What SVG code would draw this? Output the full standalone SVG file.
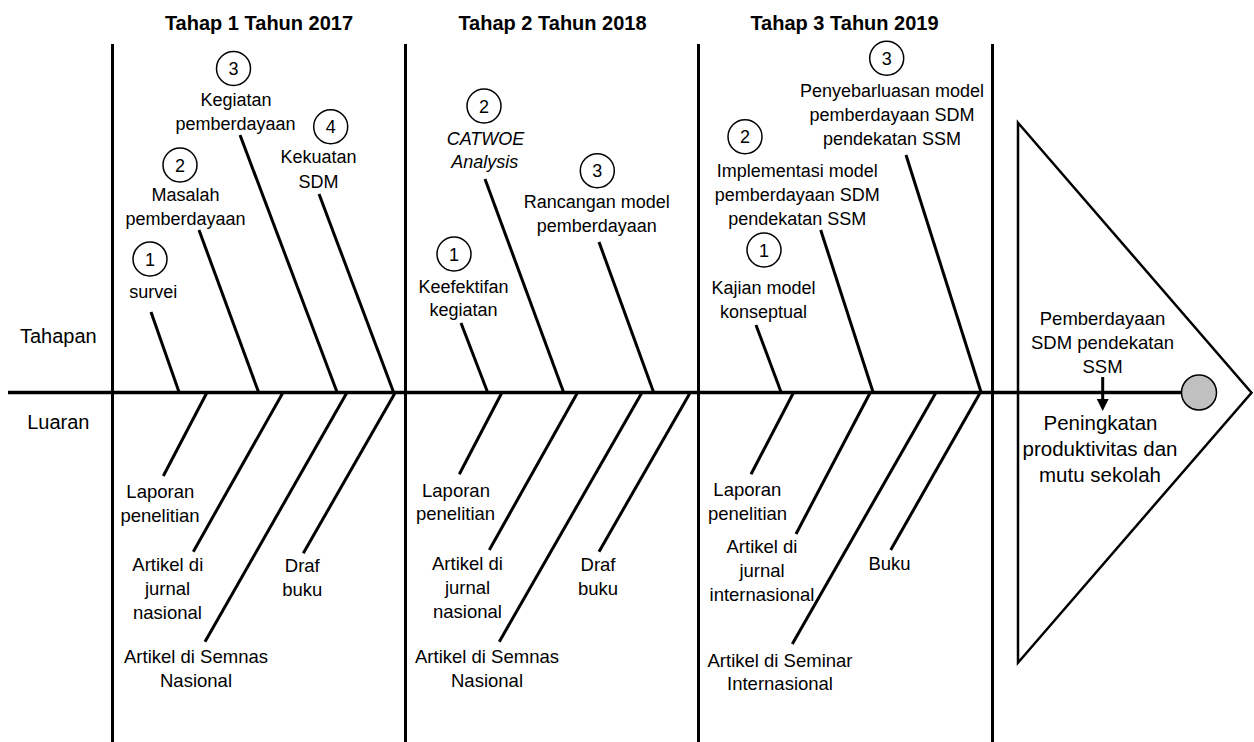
<svg xmlns="http://www.w3.org/2000/svg" width="1254" height="742" viewBox="0 0 1254 742">
<style>
text{font-family:"Liberation Sans",Arial,sans-serif;fill:#000;text-anchor:middle;font-size:18.5px}
.h{font-weight:bold;font-size:20px}
.big{font-size:20.5px}
.it{font-style:italic}
.br{stroke:#000;stroke-width:3;fill:none;stroke-linecap:butt}
.sep{stroke:#000;stroke-width:3;fill:none}
.num circle{fill:#fff;stroke:#000;stroke-width:1.5}
.num text{font-size:18px}
</style>
<defs>
<marker id="ah" markerWidth="12" markerHeight="12" refX="3" refY="6" orient="auto" markerUnits="userSpaceOnUse" viewBox="0 0 12 12">
<polygon points="0,0 12,6 0,12" fill="#000"/>
</marker>
</defs>
<rect width="1254" height="742" fill="#fff"/>

<g id="headers">
<text class="h" x="259" y="29.5">Tahap 1 Tahun 2017</text>
<text class="h" x="552.5" y="29.5">Tahap 2 Tahun 2018</text>
<text class="h" x="844.5" y="29.5">Tahap 3 Tahun 2019</text>
<text style="font-size:20px" x="58.3" y="343.3">Tahapan</text>
<text style="font-size:20px" x="58.3" y="429.3">Luaran</text>
</g>

<g id="separators">
<line class="sep" x1="112.5" y1="44" x2="112.5" y2="742"/>
<line class="sep" x1="405.5" y1="44" x2="405.5" y2="742"/>
<line class="sep" x1="698.5" y1="44" x2="698.5" y2="742"/>
<line class="sep" x1="992.5" y1="44" x2="992.5" y2="742"/>
</g>

<g id="head">
<polygon points="1018,122.7 1251.5,392.7 1018,662.7" fill="none" stroke="#000" stroke-width="2.5" stroke-linejoin="miter"/>
</g>

<g id="connectors">
<line x1="8" y1="392.5" x2="1182" y2="392.5" stroke="#000" stroke-width="3.5"/>
<!-- stage 1 upper -->
<line class="br" x1="151" y1="312" x2="179" y2="392"/>
<line class="br" x1="199" y1="230" x2="258.5" y2="392"/>
<line class="br" x1="240" y1="135" x2="337" y2="392"/>
<line class="br" x1="319" y1="194" x2="393.5" y2="392"/>
<!-- stage 2 upper -->
<line class="br" x1="461" y1="323" x2="487.5" y2="392"/>
<line class="br" x1="485" y1="179" x2="563.5" y2="392"/>
<line class="br" x1="599" y1="242" x2="653.5" y2="392"/>
<!-- stage 3 upper -->
<line class="br" x1="756" y1="325" x2="781" y2="392"/>
<line class="br" x1="820.7" y1="230" x2="873" y2="392"/>
<line class="br" x1="906" y1="155" x2="981" y2="392"/>
<!-- stage 1 lower -->
<line class="br" x1="206.7" y1="393" x2="163.3" y2="476"/>
<line class="br" x1="282.7" y1="393" x2="193.3" y2="551.7"/>
<line class="br" x1="346.7" y1="393" x2="205" y2="641.7"/>
<line class="br" x1="395" y1="393" x2="303.3" y2="553.3"/>
<!-- stage 2 lower -->
<line class="br" x1="501.7" y1="393" x2="459.3" y2="474.3"/>
<line class="br" x1="577.3" y1="393" x2="489.3" y2="550"/>
<line class="br" x1="641.7" y1="393" x2="499.3" y2="641.7"/>
<line class="br" x1="690" y1="393" x2="599" y2="551.7"/>
<!-- stage 3 lower -->
<line class="br" x1="793.3" y1="393" x2="751" y2="474.3"/>
<line class="br" x1="870" y1="393" x2="796" y2="534"/>
<line class="br" x1="935.7" y1="393" x2="792.3" y2="644"/>
<line class="br" x1="980" y1="393" x2="890.7" y2="550"/>
<!-- result arrow -->
<line x1="1102.7" y1="377" x2="1102.7" y2="402" stroke="#000" stroke-width="3" marker-end="url(#ah)"/>
</g>

<g id="goal">
<ellipse cx="1199" cy="392.5" rx="17.5" ry="17.5" fill="#c0c0c0" stroke="#000" stroke-width="1.5"/>
<text x="1102.5" y="325">Pemberdayaan</text>
<text x="1102.5" y="348.5">SDM pendekatan</text>
<text x="1102.5" y="372.5">SSM</text>
</g>
<g id="result">
<text class="big" x="1100.5" y="429.5">Peningkatan</text>
<text class="big" x="1100" y="455.5">produktivitas dan</text>
<text class="big" x="1100" y="481.5">mutu sekolah</text>
</g>

<!-- Stage 1 steps -->
<g id="s1-step1" class="num">
<circle cx="150" cy="259" r="17"/><text x="150" y="265.5">1</text>
<text x="153.3" y="298">survei</text>
</g>
<g id="s1-step2" class="num">
<circle cx="180" cy="165" r="17"/><text x="180" y="171.5">2</text>
<text x="185.5" y="201">Masalah</text>
<text x="185.5" y="225">pemberdayaan</text>
</g>
<g id="s1-step3" class="num">
<circle cx="233.5" cy="68.5" r="17"/><text x="233.5" y="75">3</text>
<text x="236" y="105.5">Kegiatan</text>
<text x="235.5" y="129.5">pemberdayaan</text>
</g>
<g id="s1-step4" class="num">
<circle cx="330.7" cy="126.7" r="17"/><text x="330.7" y="133.2">4</text>
<text x="318.5" y="163.3">Kekuatan</text>
<text x="318.5" y="188">SDM</text>
</g>

<!-- Stage 1 outputs -->
<g id="s1-out1"><text x="160.3" y="498.3">Laporan</text><text x="160" y="522">penelitian</text></g>
<g id="s1-out2"><text x="167.8" y="571">Artikel di</text><text x="167.5" y="595">jurnal</text><text x="167.5" y="619">nasional</text></g>
<g id="s1-out3"><text x="196" y="663.3">Artikel di Semnas</text><text x="196" y="687.3">Nasional</text></g>
<g id="s1-out4"><text x="302.3" y="571.7">Draf</text><text x="302.3" y="596">buku</text></g>

<!-- Stage 2 steps -->
<g id="s2-step1" class="num">
<circle cx="454" cy="254" r="17"/><text x="454" y="260.5">1</text>
<text x="463.5" y="292.7">Keefektifan</text>
<text x="463.5" y="315.5">kegiatan</text>
</g>
<g id="s2-step2" class="num">
<circle cx="484" cy="106" r="17"/><text x="484" y="112.5">2</text>
<text class="it" x="485.5" y="145">CATWOE</text>
<text class="it" x="484.7" y="168">Analysis</text>
</g>
<g id="s2-step3" class="num">
<circle cx="597.3" cy="170.7" r="17"/><text x="597.3" y="177.2">3</text>
<text x="596.7" y="208.3">Rancangan model</text>
<text x="596.7" y="232.3">pemberdayaan</text>
</g>

<!-- Stage 2 outputs -->
<g id="s2-out1"><text x="456" y="496.7">Laporan</text><text x="455.5" y="520.3">penelitian</text></g>
<g id="s2-out2"><text x="467.5" y="570">Artikel di</text><text x="467.5" y="594">jurnal</text><text x="467.5" y="618.3">nasional</text></g>
<g id="s2-out3"><text x="487" y="663.3">Artikel di Semnas</text><text x="487" y="687">Nasional</text></g>
<g id="s2-out4"><text x="598" y="570.7">Draf</text><text x="598" y="595">buku</text></g>

<!-- Stage 3 steps -->
<g id="s3-step1" class="num">
<circle cx="764" cy="250" r="17"/><text x="764" y="256.5">1</text>
<text x="763.5" y="294.3">Kajian model</text>
<text x="763.5" y="318.3">konseptual</text>
</g>
<g id="s3-step2" class="num">
<circle cx="745" cy="136.7" r="17"/><text x="745" y="143.2">2</text>
<text x="797.3" y="176.7">Implementasi model</text>
<text x="797.3" y="201">pemberdayaan SDM</text>
<text x="797.3" y="225">pendekatan SSM</text>
</g>
<g id="s3-step3" class="num">
<circle cx="886.7" cy="58.3" r="17"/><text x="886.7" y="64.8">3</text>
<text x="892" y="97.3">Penyebarluasan model</text>
<text x="892" y="120.7">pemberdayaan SDM</text>
<text x="892" y="145">pendekatan SSM</text>
</g>

<!-- Stage 3 outputs -->
<g id="s3-out1"><text x="747.3" y="496">Laporan</text><text x="747.5" y="520">penelitian</text></g>
<g id="s3-out2"><text x="762" y="552.7">Artikel di</text><text x="762" y="576.7">jurnal</text><text x="762" y="601">internasional</text></g>
<g id="s3-out3"><text x="780" y="666.7">Artikel di Seminar</text><text x="780" y="690">Internasional</text></g>
<g id="s3-out4"><text x="889.5" y="570">Buku</text></g>
</svg>
